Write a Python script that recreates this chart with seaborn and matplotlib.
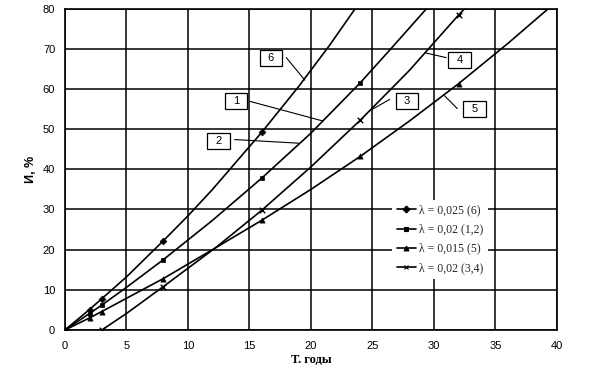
import numpy as np
import pandas as pd
import matplotlib
matplotlib.use("Agg")
import matplotlib.pyplot as plt
from matplotlib.lines import Line2D
from matplotlib.patches import Rectangle
import seaborn as sns

# ---- data ----
# curve 6, lambda = 0.025
t_6 = [0, 2, 3, 5, 8, 10, 12, 16, 19, 21.5, 23.6]
i_6 = [0, 5.1, 7.8, 13.2, 22.2, 28.4, 35.0, 49.2, 60.6, 70.8, 80.0]
mk_6 = [0, 2, 3, 8, 16]

# curves 1,2, lambda = 0.02
t_12 = [0, 2, 3, 5, 8, 12, 16, 20, 24, 26.5, 29.4]
i_12 = [0, 4.1, 6.2, 10.6, 17.5, 27.3, 37.8, 49.0, 61.5, 70.0, 80.0]
mk_12 = [0, 2, 3, 8, 16, 24]

# curve 5, lambda = 0.015
t_5 = [0, 2, 3, 8, 12, 16, 20, 24, 28, 32, 36, 39.3]
i_5 = [0, 3.0, 4.6, 12.8, 20.0, 27.3, 35.0, 43.2, 52.0, 61.3, 71.3, 80.0]
mk_5 = [0, 2, 3, 8, 16, 24, 32]

# curves 3,4, lambda = 0.02 (start at T = 3)
t_34 = [3, 5, 8, 12.3, 16, 20, 24, 28, 32, 32.5]
i_34 = [0, 4.1, 10.8, 20.6, 29.8, 40.6, 52.2, 64.6, 78.4, 80.0]
mk_34 = [3, 8, 16, 24, 32]

legend_labels = ["λ = 0,025 (6)", "λ = 0,02 (1,2)", "λ = 0,015 (5)", "λ = 0,02 (3,4)"]
x_ticks = [0, 5, 10, 15, 20, 25, 30, 35, 40]
y_ticks = [0, 10, 20, 30, 40, 50, 60, 70, 80]
x_label = "Т. годы"
y_label = "И, %"

sns.set_theme(style="white")
plt.rcParams['font.family'] = ['Liberation Sans', 'DejaVu Sans']

fig = plt.figure(figsize=(5.9, 3.69), dpi=100)
ax = fig.add_axes([0.110, 0.1057, 0.834, 0.871])

series = [
    (t_6, i_6, mk_6, 'D', 12),
    (t_12, i_12, mk_12, 's', 12),
    (t_5, i_5, mk_5, '^', 14),
    (t_34, i_34, mk_34, 'x', 16),
]

handles = []
for (t, v, mk, m, s), lab in zip(series, legend_labels):
    df = pd.DataFrame({"T": t, "I": v})
    sns.lineplot(data=df, x="T", y="I", ax=ax, color="black", lw=1.2,
                 estimator=None, sort=False, legend=False, zorder=3)
    dm = df[df["T"].isin(mk)]
    if m == 'x':
        sns.scatterplot(data=dm, x="T", y="I", ax=ax, marker=m, s=s,
                        color="black", linewidth=1.0, legend=False, zorder=4)
    else:
        sns.scatterplot(data=dm, x="T", y="I", ax=ax, marker=m, s=s,
                        color="black", edgecolor="black", linewidth=0.5,
                        legend=False, zorder=4)
    handles.append(Line2D([0], [0], color="black", lw=1.2, marker=m,
                          markersize=3.5, markeredgewidth=0.8))

ax.set_xlim(0, 40)
ax.set_ylim(0, 80)
ax.set_xticks(x_ticks)
ax.set_yticks(y_ticks)
ax.set_xticklabels([str(x) for x in x_ticks])
ax.set_yticklabels([str(y) for y in y_ticks])
ax.grid(True, color="black", lw=1.1)
ax.set_axisbelow(True)
for sp in ax.spines.values():
    sp.set_color("black")
    sp.set_linewidth(1.2)
ax.tick_params(axis="both", direction="out", length=3, width=1, color="black",
               labelsize=8, labelcolor="black")
ax.tick_params(axis="x", pad=5)
ax.tick_params(axis="y", pad=4)

ax.set_xlabel(x_label, family="Liberation Serif", fontweight="bold", fontsize=9,
              labelpad=2, color="black")
ax.set_ylabel(y_label, fontweight="bold", fontsize=9, labelpad=4, color="black")

leg = ax.legend(handles, legend_labels, loc="upper left", bbox_to_anchor=(0.665, 0.405),
                frameon=True, facecolor="white", edgecolor="none", framealpha=1,
                fancybox=False, prop={"family": "Liberation Serif", "size": 8.5},
                handlelength=1.6, labelspacing=0.6, borderpad=0.4,
                handletextpad=0.3, borderaxespad=0)
leg.set_zorder(6)

# numbered callout boxes with leader lines
callouts = [
    ("6", (16.75, 67.6), (18.0, 67.8), (19.5, 62.2)),
    ("1", (13.9, 56.9), (15.05, 56.9), (21.0, 52.0)),
    ("2", (12.5, 47.1), (13.8, 47.4), (19.0, 46.5)),
    ("4", (32.07, 67.3), (31.0, 67.8), (29.27, 69.0)),
    ("3", (27.8, 57.1), (26.4, 57.4), (24.8, 54.6)),
    ("5", (33.3, 54.9), (31.9, 55.1), (30.8, 58.5)),
]
bw, bh = 1.85, 4.0
for lab, (cx, cy), p0, p1 in callouts:
    ax.plot([p0[0], p1[0]], [p0[1], p1[1]], color="black", lw=0.8, zorder=5)
    ax.add_patch(Rectangle((cx - bw / 2, cy - bh / 2), bw, bh, facecolor="white",
                           edgecolor="black", lw=0.9, zorder=7))
    ax.text(cx, cy, lab, ha="center", va="center", fontsize=8, color="black", zorder=8)

fig.savefig("out.png", dpi=100)
